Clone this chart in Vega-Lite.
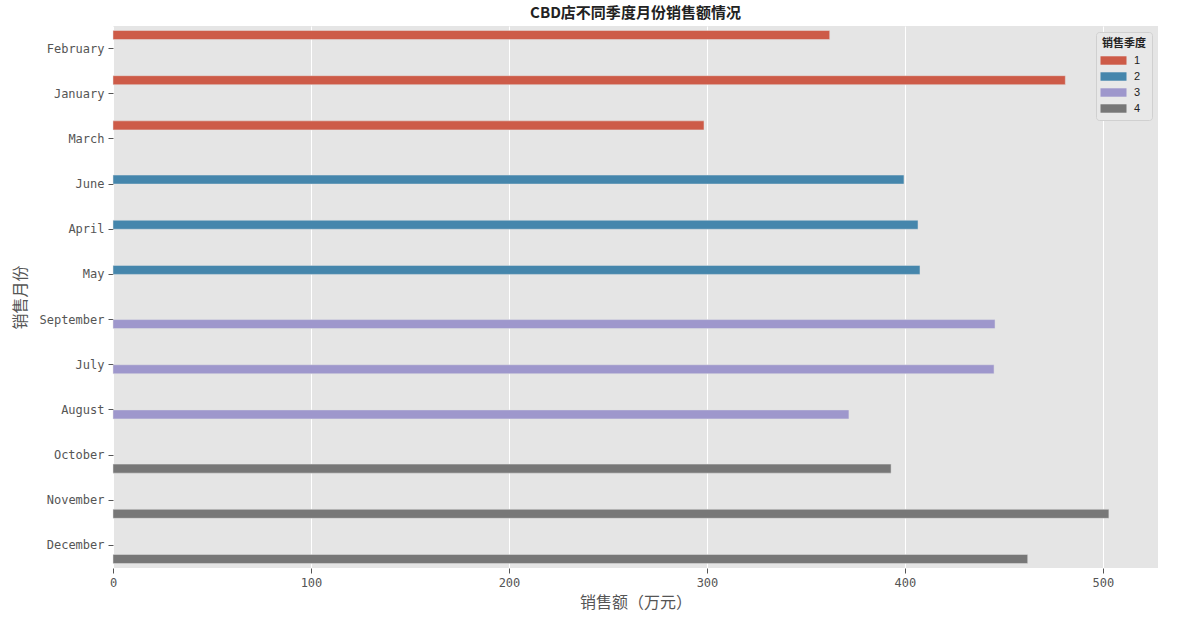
{
  "$schema": "https://vega.github.io/schema/vega-lite/v6.json",
  "autosize": "none",
  "width": 1045,
  "height": 542,
  "padding": {"left": 113, "top": 26, "right": 28, "bottom": 58},
  "background": "white",
  "title": {
    "text": "CBD店不同季度月份销售额情况",
    "font": "Noto Sans CJK SC",
    "fontSize": 15,
    "fontWeight": "bold",
    "color": "#222222",
    "anchor": "middle",
    "offset": 5
  },
  "data": {
    "values": [
      {"month": "February", "quarter": 1, "sales": 362},
      {"month": "January", "quarter": 1, "sales": 481},
      {"month": "March", "quarter": 1, "sales": 298.5},
      {"month": "June", "quarter": 2, "sales": 399.5},
      {"month": "April", "quarter": 2, "sales": 406.6},
      {"month": "May", "quarter": 2, "sales": 407.6},
      {"month": "September", "quarter": 3, "sales": 445.5},
      {"month": "July", "quarter": 3, "sales": 445},
      {"month": "August", "quarter": 3, "sales": 371.7},
      {"month": "October", "quarter": 4, "sales": 393},
      {"month": "November", "quarter": 4, "sales": 503},
      {"month": "December", "quarter": 4, "sales": 462}
    ]
  },
  "config": {
    "view": {"fill": "#E5E5E5", "stroke": null},
    "axis": {
      "domain": false,
      "tickColor": "#555555",
      "tickSize": 5,
      "labelColor": "#555555",
      "labelFont": "DejaVu Sans Mono",
      "labelFontSize": 12,
      "labelFlush": false,
      "titleFont": "Noto Sans CJK SC",
      "titleFontSize": 16,
      "titleFontWeight": "normal",
      "titleColor": "#555555"
    }
  },
  "mark": {"type": "bar", "stroke": "#E5E5E5", "strokeWidth": 0.5},
  "encoding": {
    "y": {
      "field": "month",
      "type": "nominal",
      "sort": ["February", "January", "March", "June", "April", "May", "September", "July", "August", "October", "November", "December"],
      "scale": {"paddingInner": 0.2, "paddingOuter": 0.1},
      "axis": {"title": "销售月份", "grid": false, "titlePadding": 10, "labelPadding": 4}
    },
    "yOffset": {
      "field": "quarter",
      "type": "nominal",
      "scale": {"domain": [1, 2, 3, 4], "paddingInner": 0, "paddingOuter": 0}
    },
    "x": {
      "field": "sales",
      "type": "quantitative",
      "scale": {"domain": [0, 527.8], "nice": false},
      "axis": {
        "title": "销售额（万元）",
        "values": [0, 100, 200, 300, 400, 500],
        "grid": true,
        "gridColor": "white",
        "gridWidth": 1,
        "titlePadding": 6,
        "labelPadding": 4
      }
    },
    "color": {
      "field": "quarter",
      "type": "nominal",
      "scale": {"domain": [1, 2, 3, 4], "range": ["#CD5B48", "#4586AC", "#9E97CC", "#777777"]},
      "legend": {
        "title": "销售季度",
        "orient": "top-right",
        "offset": 6,
        "titleFont": "Noto Sans CJK SC",
        "titleFontSize": 11,
        "titleFontWeight": "bold",
        "titleColor": "#222222",
        "titleAnchor": "middle",
        "titlePadding": 5,
        "labelFont": "Liberation Sans",
        "labelFontSize": 11,
        "labelColor": "#222222",
        "labelOffset": 14,
        "symbolType": "M-2,-0.65H2V0.65H-2Z",
        "symbolSize": 169,
        "symbolStrokeWidth": 0,
        "rowPadding": 4,
        "fillColor": "#E8E8E8",
        "strokeColor": "#D0D0D0",
        "cornerRadius": 3,
        "padding": 6
      }
    }
  }
}
